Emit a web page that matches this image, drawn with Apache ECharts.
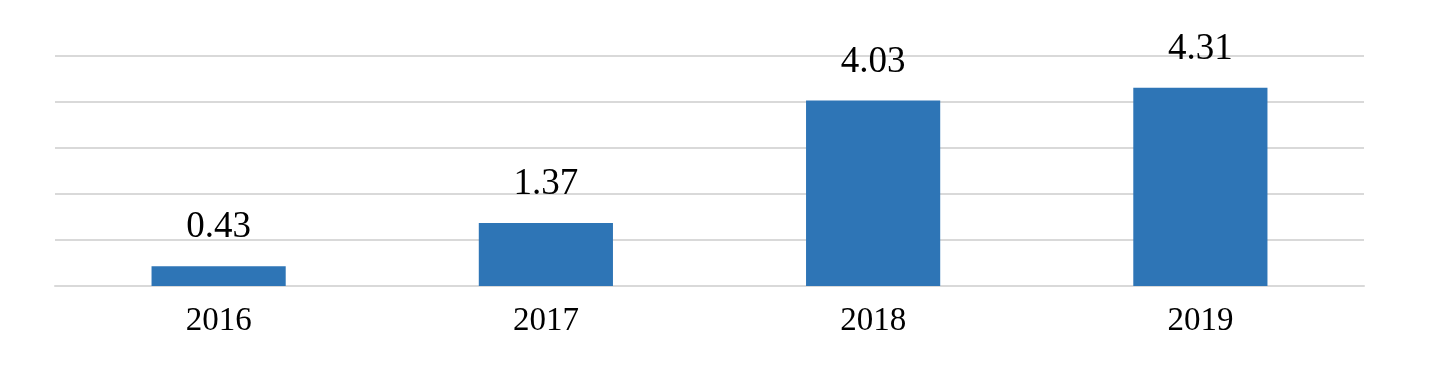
<!DOCTYPE html>
<html>
<head>
<meta charset="utf-8">
<script src="https://cdn.jsdelivr.net/npm/echarts@6/dist/echarts.min.js"></script>
<style>html,body{margin:0;padding:0;background:#fff}#c{width:1430px;height:368px}</style>
</head>
<body>
<div id="c"></div>
<script>
const categories = ['2016', '2017', '2018', '2019'];
const values = [0.43, 1.37, 4.03, 4.31];

const chart = echarts.init(document.getElementById('c'));
chart.setOption({
  animation: false,
  grid: { left: 55, right: 66, top: 56, bottom: 82 },
  xAxis: {
    type: 'category',
    data: categories,
    axisLine: { lineStyle: { color: '#d9d9d9', width: 2 } },
    axisTick: { show: false },
    axisLabel: { color: '#000', fontFamily: 'Liberation Serif', fontSize: 33, margin: 19 }
  },
  yAxis: {
    type: 'value',
    min: 0, max: 5, interval: 1,
    axisLabel: { show: false },
    axisLine: { show: false },
    axisTick: { show: false },
    splitLine: { lineStyle: { color: '#d9d9d9', width: 2 } }
  },
  series: [{
    type: 'bar',
    data: values,
    barWidth: '41%',
    itemStyle: { color: '#2E75B6' },
    label: {
      show: true,
      position: 'top',
      distance: 20,
      color: '#000',
      fontFamily: 'Liberation Serif',
      fontSize: 37,
      formatter: p => p.value.toFixed(2)
    }
  }]
});
</script>
</body>
</html>
